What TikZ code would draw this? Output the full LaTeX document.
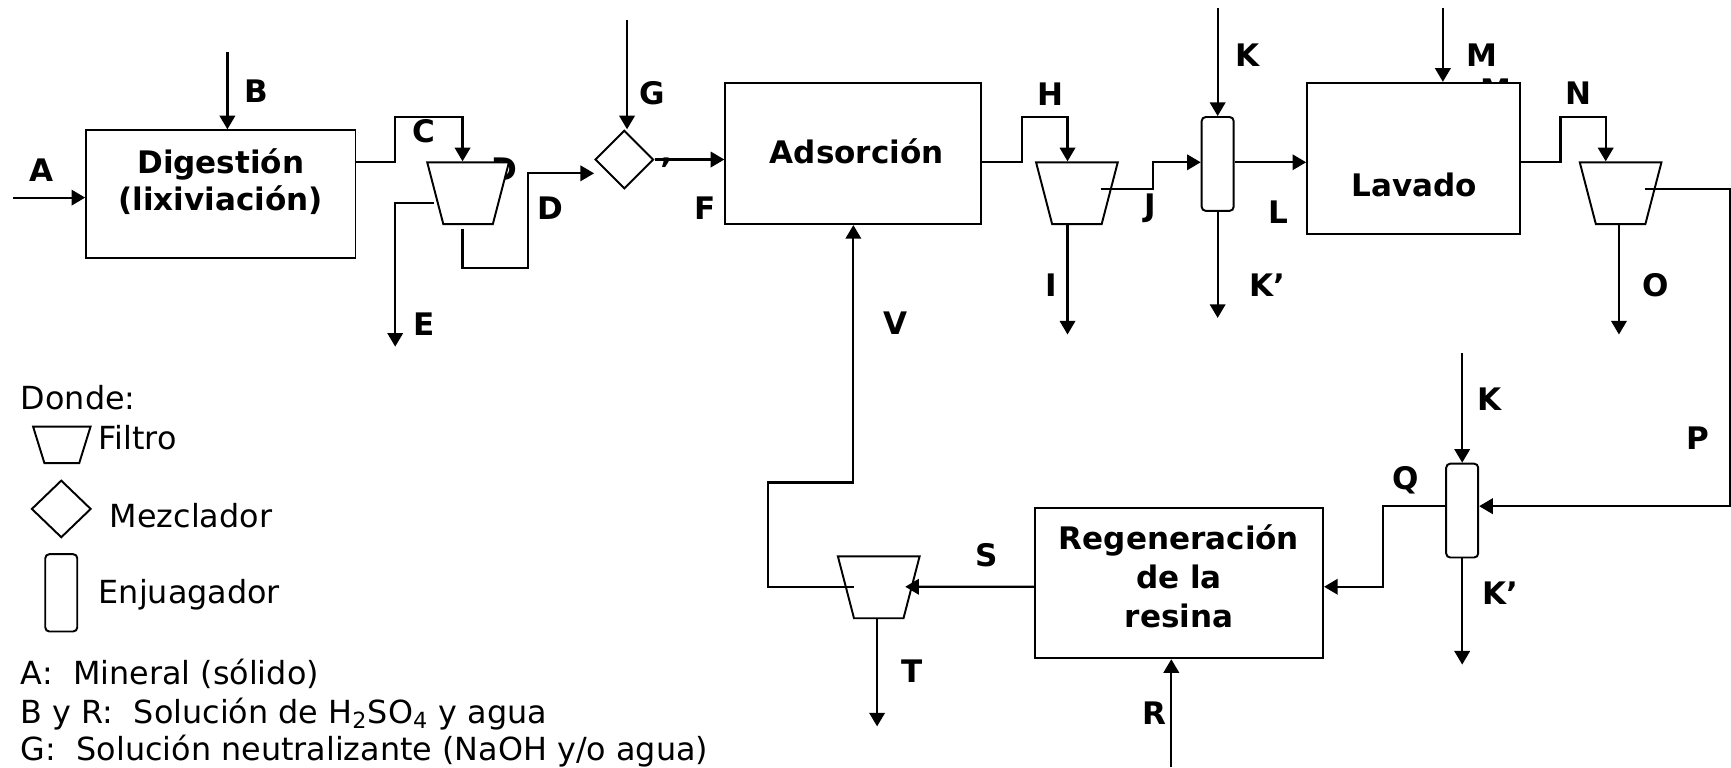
\documentclass[tikz,border=0pt]{standalone}
\usepackage{fontspec}
\setmainfont{DejaVu Sans}
\usetikzlibrary{arrows.meta, shapes.geometric, calc}
\def\px{0.15mm}
\tikzset{
  >={Triangle[length=1.85mm, width=2.1mm]},
  caja/.style={draw, line width=0.75pt, fill=white, inner sep=0pt},
  filtro/.style={trapezium, trapezium angle=72, shape border rotate=180, trapezium stretches=true,
    draw, line width=0.75pt, fill=white, inner sep=0.5pt, minimum width=74*\px, minimum height=56*\px},
  mezcla/.style={diamond, draw, line width=0.75pt, fill=white, inner sep=0pt,
    minimum width=53*\px, minimum height=53*\px},
  enjuague/.style={rectangle, rounded corners=0.55mm, draw, line width=0.75pt, fill=white, inner sep=0pt,
    minimum width=29*\px, minimum height=85*\px},
  flujo/.style={->, line width=0.85pt},
  letra/.style={font=\fontsize{12}{14.9}\selectfont\bfseries, inner sep=0pt},
  leyenda/.style={font=\fontsize{12.3}{15}\selectfont, anchor=base west, inner sep=0pt},
}

\begin{document}
\begin{tikzpicture}[x=0.15mm, y=-0.15mm]
  \useasboundingbox (0,0) rectangle (1568,695);

  % Letters that the units hide in part.
  \node[letra] (dtapada) at (457,153) {D};
  \node[letra] (mtapada) at (1355,82) {M};

  % Units of the process.
  \node[caja, minimum width=244*\px, minimum height=116*\px] (dig) at (200,176) {};
  \node[caja, minimum width=232*\px, minimum height=128*\px] (ads) at (773,139) {};
  \node[caja, minimum width=193*\px, minimum height=137*\px] (lav) at (1280.5,143.5) {};
  \node[caja, minimum width=261*\px, minimum height=136.5*\px] (reg) at (1068,528) {};
  \node[filtro] (f1) at (424,175) {};
  \node[filtro] (f2) at (975.5,175) {};
  \node[filtro] (f3) at (1468,175) {};
  \node[filtro] (f4) at (796,532) {};
  \node[mezcla] (mez) at (565.5,144.5) {};
  \node[enjuague] (enj1) at (1103,148.5) {};
  \node[enjuague] (enj2) at (1324.5,462.5) {};

  \node[letra, anchor=base] (tdig) at (200,157) {Digestión};
  \node[letra, anchor=base] (tlix) at (200,191) {(lixiviación)};
  \node[letra, anchor=base] (tads) at (776,148.5) {Adsorción};
  \node[letra, anchor=base] (tlav) at (1281,178) {Lavado};
  \node[letra, anchor=base, align=center] (treg) at (1068,568) {Regeneración\\de la\\resina};

  % Free ends of the streams.
  \coordinate (entA) at (12,179);
  \coordinate (entB) at (206,47);
  \coordinate (entG) at (568,18);
  \coordinate (entK1) at (1103,7);
  \coordinate (entM) at (1307,7);
  \coordinate (entK2) at (1324.5,320);
  \coordinate (entR) at (1061,695);
  \coordinate (salE) at (358,314);
  \coordinate (salI) at (967,303);
  \coordinate (salK1) at (1103,288);
  \coordinate (salO) at (1466.5,303);
  \coordinate (salK2) at (1324.5,602);
  \coordinate (salT) at (794.5,658);

  % Streams.
  \draw[flujo] (entA) -- (entA -| dig.west);
  \draw[flujo] (entB) -- (entB |- dig.north);
  \draw[flujo] (dig.east |- 0,147) -| (358,106) -| (419,0 |- f1.north);
  \draw[flujo] ([shift={(-31,9)}]f1.center) -| (salE);
  \draw[flujo] ([shift={(-5,32)}]f1.center) |- (478,243) |- (mez.west |- 0,157);
  \draw[flujo] (entG) -- (entG |- mez.north);
  \draw[flujo] (mez.east) -- (mez.east -| ads.west);
  \draw[flujo] (ads.east |- 0,147) -| (926,106) -| (967,0 |- f2.north);
  \draw[flujo] (967,0 |- f2.south) -- (salI);
  \draw[flujo] ([shift={(21.5,-4)}]f2.center) -| (1044.5,147) -- (enj1.west |- 0,147);
  \draw[flujo] (entK1) -- (entK1 |- enj1.north);
  \draw[flujo] (enj1.south) -- (salK1);
  \draw[flujo] (enj1.east |- 0,147) -- (lav.west |- 0,147);
  \draw[flujo] (entM) -- (entM |- lav.north);
  \draw[flujo] (lav.east |- 0,147) -| (1413.5,106) -| (1454.5,0 |- f3.north);
  \draw[flujo] (1466.5,0 |- f3.south) -- (salO);
  \draw[flujo] ([shift={(22.5,-4)}]f3.center) -| (1567,458.5) -- (enj2.east |- 0,458.5);
  \draw[flujo] (entK2) -- (entK2 |- enj2.north);
  \draw[flujo] (enj2.south) -- (salK2);
  \draw[flujo] (enj2.west |- 0,458.5) -| (1253,531.5) -- (reg.east |- 0,531.5);
  \draw[flujo] (entR) -- (entR |- reg.south);
  \draw[flujo] (reg.west |- 0,531.5) -- ([shift={(24,-0.5)}]f4.center);
  \draw[flujo] (794.5,0 |- f4.south) -- (salT);
  \draw[flujo] ([shift={(-22.5,-0.5)}]f4.center) -| (696,437) -| (ads.south);

  % Stream letters.
  \node[letra] (lA) at (38,154) {A};
  \node[letra] (lB) at (232,83) {B};
  \node[letra] (lC) at (384,119) {C};
  \node[letra] (lD) at (499,189) {D};
  \node[letra] (lE) at (384,294) {E};
  \node[letra] (lG) at (591,84) {G};
  \node[letra] (ltick) at (604,153) {’};
  \node[letra] (lF) at (639,189) {F};
  \node[letra] (lV) at (811,293) {V};
  \node[letra] (lH) at (952,85) {H};
  \node[letra] (lI) at (952,258) {I};
  \node[letra] (lJ) at (1042,189) {J};
  \node[letra] (lK1) at (1130,50) {K};
  \node[letra] (lL) at (1158,192) {L};
  \node[letra] (lKp1) at (1148,258) {K’};
  \node[letra] (lM) at (1342,50) {M};
  \node[letra] (lN) at (1430,84) {N};
  \node[letra] (lO) at (1500,258) {O};
  \node[letra] (lP) at (1538,397) {P};
  \node[letra] (lK2) at (1349,362) {K};
  \node[letra] (lQ) at (1273,435) {Q};
  \node[letra] (lKp2) at (1359,537) {K’};
  \node[letra] (lS) at (894,503) {S};
  \node[letra] (lT) at (826,608) {T};
  \node[letra] (lR) at (1046,646) {R};

  % Key.
  \node[leyenda] (donde) at (18.5,371) {Donde:};
  \node[filtro, minimum width=52*\px, minimum height=33*\px] (leyf) at (56,403) {};
  \node[leyenda] (tfiltro) at (89,407) {Filtro};
  \node[mezcla, minimum width=54*\px, minimum height=52*\px] (leym) at (55.5,461) {};
  \node[leyenda] (tmez) at (99,478) {Mezclador};
  \node[enjuague, minimum height=70*\px] (leye) at (55.5,537) {};
  \node[leyenda] (tenj) at (89,547) {Enjuagador};
  \node[leyenda] (tA) at (18.5,620) {A:\ \ Mineral (sólido)};
  \node[leyenda] (tB) at (18.5,655) {B y R:\ \ Solución de H\textsubscript{2}SO\textsubscript{4} y agua};
  \node[leyenda] (tG) at (18.5,689) {G:\ \ Solución neutralizante (NaOH y/o agua)};
\end{tikzpicture}
\end{document}
